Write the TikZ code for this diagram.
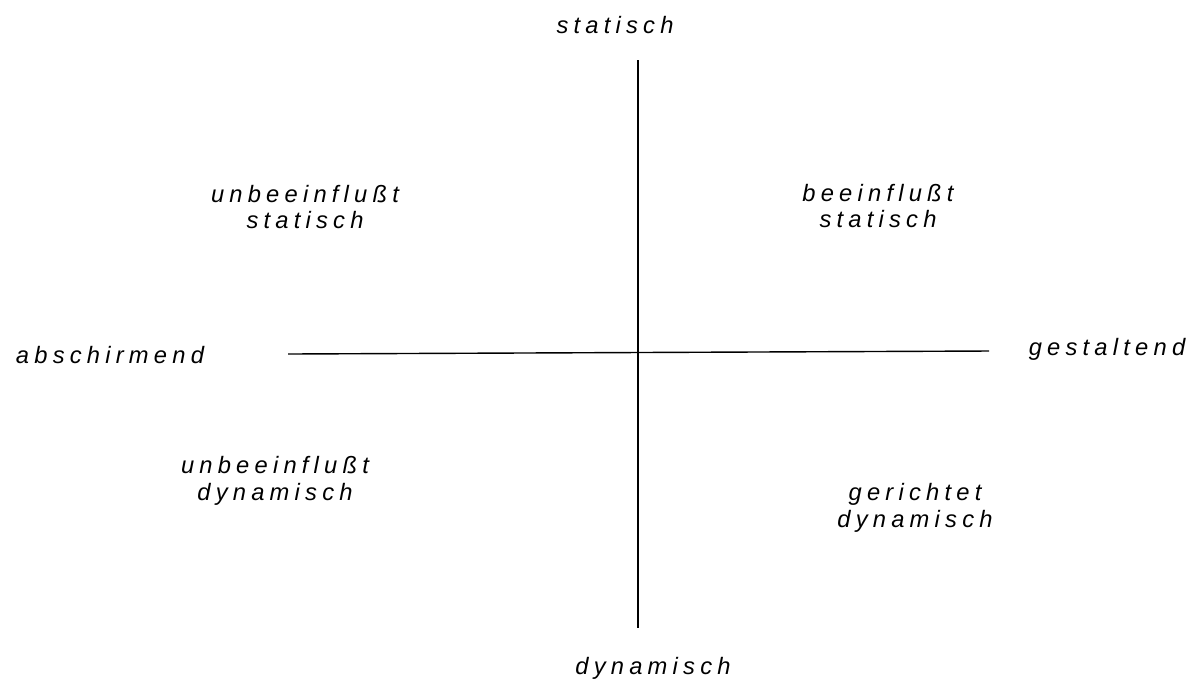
\documentclass[tikz,border=0pt]{standalone}
\usepackage{fontspec}
\setmainfont{Liberation Sans}
\newfontfamily\spacedit[LetterSpace=22,ItalicFont={* Italic}]{Liberation Sans}
\usepackage{tikz}
\usetikzlibrary{positioning}

\begin{document}
\begin{tikzpicture}[
        axis/.style={line width=0.8pt},
        lbl/.style={font=\spacedit\itshape\fontsize{13.5}{15.3}\selectfont, align=center, inner sep=0pt},
    ]
        \useasboundingbox (0,0) rectangle (24,-13.7);
        % axis end points
        \coordinate (top) at (12.76,-1.2);
        \coordinate (bottom) at (12.76,-12.56);
        \coordinate (west) at (5.76,-7.08);
        \coordinate (east) at (19.78,-7.02);
        \draw[axis] (top) -- (bottom);
        \draw[axis] (west) -- (east);
        % pole labels
        \node[lbl] (stat) at (12.3,-0.5) {statisch};
        \node[lbl] (dyn) at (13.06,-13.36) {dynamisch};
        \node[lbl] (absch) at (2.2,-7.1) {abschirmend};
        \node[lbl] (gest) at (22.14,-6.98) {gestaltend};
        % quadrants
        \node[lbl] (ubstat) at (6.1,-4.14) {unbeeinflußt\\statisch};
        \node[lbl] (bstat) at (17.56,-4.12) {beeinflußt\\statisch};
        \node[lbl] (ubdyn) at (5.5,-9.62) {unbeeinflußt\\dynamisch};
        \node[lbl] (gdyn) at (18.3,-10.16) {gerichtet\\dynamisch};
    \end{tikzpicture}
\end{document}
